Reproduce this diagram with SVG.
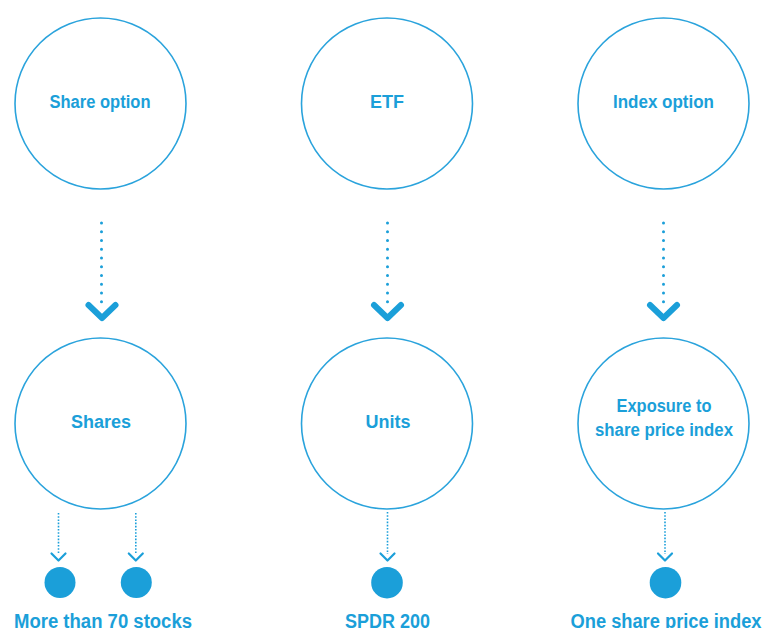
<svg xmlns="http://www.w3.org/2000/svg" width="765" height="628" viewBox="0 0 765 628">
<style>
.ring{fill:#fff;stroke:#2aa3dc;stroke-width:1.6}
.lbl{font-family:"Liberation Sans",Arial,sans-serif;font-weight:bold;font-size:18px;fill:#1b9fd9;text-anchor:middle}
.big{font-size:20px}
.dots{stroke:#1b9fd9;stroke-width:3;stroke-linecap:round;stroke-dasharray:0 8.75;fill:none}
.chev{stroke:#1b9fd9;stroke-width:6;stroke-linecap:round;stroke-linejoin:round;fill:none}
.sdots{stroke:#1b9fd9;stroke-width:1.6;stroke-dasharray:1.6 1.6;fill:none}
.schev{stroke:#1b9fd9;stroke-width:2.2;stroke-linecap:round;stroke-linejoin:round;fill:none}
.dot{fill:#1b9fd9}
</style>
<rect width="765" height="628" fill="#fff"/>
<g id="connectors">
<path class="dots" d="M101.5 223V302"/>
<path class="chev" d="M88.5 305L102 318L115.5 305"/>
<path class="dots" d="M387.5 223V302"/>
<path class="chev" d="M374 305L387.5 318L401 305"/>
<path class="dots" d="M663.5 223V302"/>
<path class="chev" d="M650 305L663.5 318L677 305"/>
<path class="sdots" d="M58.5 513V554"/>
<path class="schev" d="M51.5 553.5L58.5 560.5L65.5 553.5"/>
<path class="sdots" d="M135.8 513V554"/>
<path class="schev" d="M128.8 553.5L135.8 560.5L142.8 553.5"/>
<path class="sdots" d="M387.5 512V554"/>
<path class="schev" d="M380.5 553.5L387.5 560.5L394.5 553.5"/>
<path class="sdots" d="M665 512V554"/>
<path class="schev" d="M658 553.5L665 560.5L672 553.5"/>
</g>
<g id="share-option"><circle class="ring" cx="100.5" cy="103.5" r="85.5"/><text class="lbl" x="100" y="107.5" textLength="101" lengthAdjust="spacingAndGlyphs">Share option</text></g>
<g id="etf"><circle class="ring" cx="387" cy="103.5" r="85.5"/><text class="lbl" x="387" y="107.5">ETF</text></g>
<g id="index-option"><circle class="ring" cx="663.5" cy="103.5" r="85.5"/><text class="lbl" x="663.5" y="107.5" textLength="101" lengthAdjust="spacingAndGlyphs">Index option</text></g>
<g id="shares"><circle class="ring" cx="100.5" cy="423.5" r="85.5"/><text class="lbl" x="101" y="427.5">Shares</text></g>
<g id="units"><circle class="ring" cx="387" cy="423.5" r="85.5"/><text class="lbl" x="388" y="427.5">Units</text></g>
<g id="exposure"><circle class="ring" cx="663.5" cy="423.5" r="85.5"/><text class="lbl" x="664" y="411.5" textLength="95" lengthAdjust="spacingAndGlyphs">Exposure to</text><text class="lbl" x="664" y="436" textLength="138" lengthAdjust="spacingAndGlyphs">share price index</text></g>
<g id="stock1"><circle class="dot" cx="60" cy="582.5" r="15.5"/></g>
<g id="stock2"><circle class="dot" cx="136.3" cy="582.5" r="15.5"/></g>
<g id="spdr"><circle class="dot" cx="387" cy="582.7" r="15.8"/></g>
<g id="one-index"><circle class="dot" cx="665.5" cy="582.7" r="15.8"/></g>
<g id="bottom-labels">
<text class="lbl big" x="103" y="628" textLength="178" lengthAdjust="spacingAndGlyphs">More than 70 stocks</text>
<text class="lbl big" x="387.5" y="628" textLength="85" lengthAdjust="spacingAndGlyphs">SPDR 200</text>
<text class="lbl big" x="666" y="628" textLength="191" lengthAdjust="spacingAndGlyphs">One share price index</text>
</g>
</svg>
